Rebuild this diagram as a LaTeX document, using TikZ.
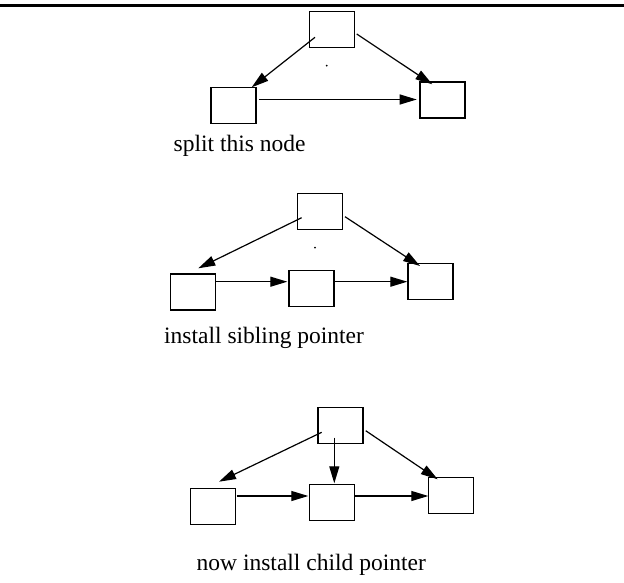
\documentclass[tikz,border=0pt]{standalone}
\usepackage{fontspec}
\setmainfont{Liberation Serif}
\usetikzlibrary{arrows.meta}

\tikzset{
  box/.style={draw, line width=1.2pt, minimum width=45pt, minimum height=36pt, inner sep=0pt},
  ptr/.style={line width=1.2pt, -{Triangle[length=17pt,width=10pt]}},
  caption/.style={anchor=base west, inner sep=0pt, font=\fontsize{23.5}{28}\selectfont},
  speck/.style={fill=black}
}

\begin{document}
\begin{tikzpicture}[x=1pt, y=-1pt]
\useasboundingbox (0,0) rectangle (624,583);

% heading rule
\draw[line width=3.3pt] (0,5.7) -- (624,5.7);

% ---- stage 1: the node to be split ----
\node[box] (A1) at (332,29.7) {};
\node[box] (B1) at (233.5,105.3) {};
\node[box] (C1) at (442.5,100) {};
\fill[speck] (326.7,65.7) circle (1pt);
\draw[ptr] ([shift={(-17,7.6)}]A1.center) -- ([shift={(18.2,-18)}]B1.center);
\draw[ptr] ([shift={(24.7,4.3)}]A1.center) -- ([shift={(-10.2,-15.7)}]C1.center);
\draw[ptr] ([shift={(25.8,-5.8)}]B1.center) -- ([shift={(-25.8,-0.5)}]C1.center);
\node[caption] (T1) at (173.5,151.5) {split this node};

% ---- stage 2: sibling pointer installed ----
\node[box] (A2) at (320.2,211.3) {};
\node[box] (B2) at (192.9,292) {};
\node[box] (M2) at (311.5,288.3) {};
\node[box] (C2) at (430.5,281.3) {};
\fill[speck] (315,247.7) circle (1pt);
\draw[ptr] ([shift={(-18.5,6.4)}]A2.center) -- ([shift={(5.4,-23.7)}]B2.center);
\draw[ptr] ([shift={(24.8,5.4)}]A2.center) -- ([shift={(-10.5,-15.3)}]C2.center);
\draw[ptr] ([shift={(23.1,-10.3)}]B2.center) -- ([shift={(-24.2,-6.6)}]M2.center);
\draw[ptr] ([shift={(23.5,-6.6)}]M2.center) -- ([shift={(-23.2,0.4)}]C2.center);
\node[caption] (T2) at (164,343) {install sibling pointer};

% ---- stage 3: child pointer installed ----
\node[box] (A3) at (340.5,425.3) {};
\node[box] (B3) at (213.3,506.2) {};
\node[box] (M3) at (332.2,502.7) {};
\node[box] (C3) at (451,495.7) {};
\draw[ptr] ([shift={(-18.8,7)}]A3.center) -- ([shift={(5.7,-24.5)}]B3.center);
\draw[ptr] ([shift={(-6.2,12.4)}]A3.center) -- ([shift={(2.1,-19.4)}]M3.center);
\draw[ptr] ([shift={(25.2,5.4)}]A3.center) -- ([shift={(-13.3,-16.4)}]C3.center);
\draw[ptr] ([shift={(23.4,-10.2)}]B3.center) -- ([shift={(-23.9,-6.7)}]M3.center);
\draw[ptr] ([shift={(22.1,-6.7)}]M3.center) -- ([shift={(-22.7,0.3)}]C3.center);
\node[caption] (T3) at (196.5,570) {now install child pointer};
\end{tikzpicture}
\end{document}
